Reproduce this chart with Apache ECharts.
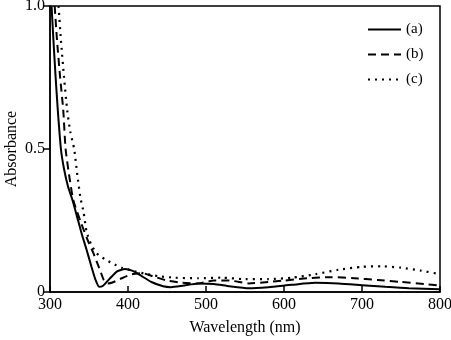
<!DOCTYPE html>
<html><head><meta charset="utf-8">
<script src="https://cdn.jsdelivr.net/npm/echarts@6/dist/echarts.min.js"></script>
<style>html,body{margin:0;padding:0;background:#fff}#c{width:451px;height:340px}</style>
</head><body><div id="c"></div>
<script>
const seriesNames = ['(a)', '(b)', '(c)'];
const xTicks = [300, 400, 500, 600, 700, 800];
const yTicks = [0, 0.5, 1.0];
const wavelengthA = [302,304,307,310,314,318,323,329,335,341,347,353,358,363,368,376,386,396,406,418,430,445,455,470,490,510,530,555,580,610,640,670,700,730,760,800];
const absorbA = [1.0,0.9,0.76,0.636,0.5,0.43,0.37,0.32,0.26,0.2,0.147,0.09,0.045,0.018,0.022,0.045,0.072,0.08,0.074,0.055,0.035,0.02,0.017,0.022,0.03,0.028,0.02,0.013,0.017,0.025,0.032,0.03,0.024,0.018,0.013,0.01];
const wavelengthB = [306,309,313,317,320,325,330,340,350,355,360,365,369,374,380,392,405,418,432,450,470,490,510,530,555,580,600,630,660,690,720,750,780,800];
const absorbB = [1.0,0.88,0.75,0.636,0.5,0.4,0.32,0.24,0.17,0.14,0.105,0.07,0.042,0.03,0.033,0.048,0.062,0.066,0.055,0.04,0.032,0.03,0.04,0.04,0.03,0.035,0.04,0.048,0.052,0.048,0.042,0.035,0.028,0.022];
const wavelengthC = [311,314,318,322,326,331,335,339,343,347,353,360,370,380,392,405,420,440,460,490,520,550,580,610,640,670,700,725,750,775,800];
const absorbC = [1.0,0.88,0.75,0.636,0.56,0.5,0.41,0.33,0.28,0.21,0.165,0.135,0.115,0.1,0.085,0.075,0.065,0.055,0.05,0.048,0.05,0.045,0.045,0.05,0.062,0.078,0.088,0.09,0.085,0.075,0.062];

const pair = (xs, ys) => xs.map((x, i) => [x, ys[i]]);
const font = '"Liberation Serif", "DejaVu Serif", serif';
const chart = echarts.init(document.getElementById('c'));
const styles = [
  {type: 'solid', width: 2},
  {type: [8, 5], width: 2},
  {type: [2, 5], width: 2.2}
];
const datas = [pair(wavelengthA, absorbA), pair(wavelengthB, absorbB), pair(wavelengthC, absorbC)];
chart.setOption({
  animation: false,
  grid: {left: 50, right: 11, top: 6, bottom: 48, outerBoundsMode: 'none', containLabel: false,
    show: true, borderColor: '#000', borderWidth: 1.5, backgroundColor: 'transparent'},
  legend: {
    left: 362, top: 17, orient: 'vertical', itemWidth: 33, itemHeight: 12, itemGap: 10,
    textStyle: {fontFamily: font, fontSize: 15, color: '#000'},
    itemStyle: {opacity: 0},
    data: seriesNames
  },
  xAxis: {
    type: 'value', min: xTicks[0], max: xTicks[xTicks.length - 1], interval: 100,
    name: 'Wavelength (nm)', nameLocation: 'middle', nameGap: 28, nameMoveOverlap: false,
    nameTextStyle: {fontFamily: font, fontSize: 16, color: '#000'},
    axisLine: {lineStyle: {color: '#000', width: 1.5}},
    axisTick: {inside: true, length: 6, lineStyle: {color: '#000', width: 1.5}},
    axisLabel: {fontFamily: font, fontSize: 16, color: '#000', margin: 5},
    splitLine: {show: false}
  },
  yAxis: {
    type: 'value', min: 0, max: 1, interval: 0.5,
    name: 'Absorbance', nameLocation: 'middle', nameGap: 30, nameMoveOverlap: false,
    nameTextStyle: {fontFamily: font, fontSize: 16, color: '#000'},
    axisLine: {show: true, lineStyle: {color: '#000', width: 1.5}},
    axisTick: {show: true, length: 6, lineStyle: {color: '#000', width: 1.5}},
    axisLabel: {fontFamily: font, fontSize: 16, color: '#000', margin: 5,
      formatter: v => v === 0 ? '0' : v.toFixed(1)},
    splitLine: {show: false}
  },
  series: seriesNames.map((n, i) => ({
    name: n, type: 'line', data: datas[i], symbol: 'none', smooth: 0.2,
    lineStyle: Object.assign({color: '#000'}, styles[i]),
    itemStyle: {color: '#000'}
  }))
});
</script></body></html>
